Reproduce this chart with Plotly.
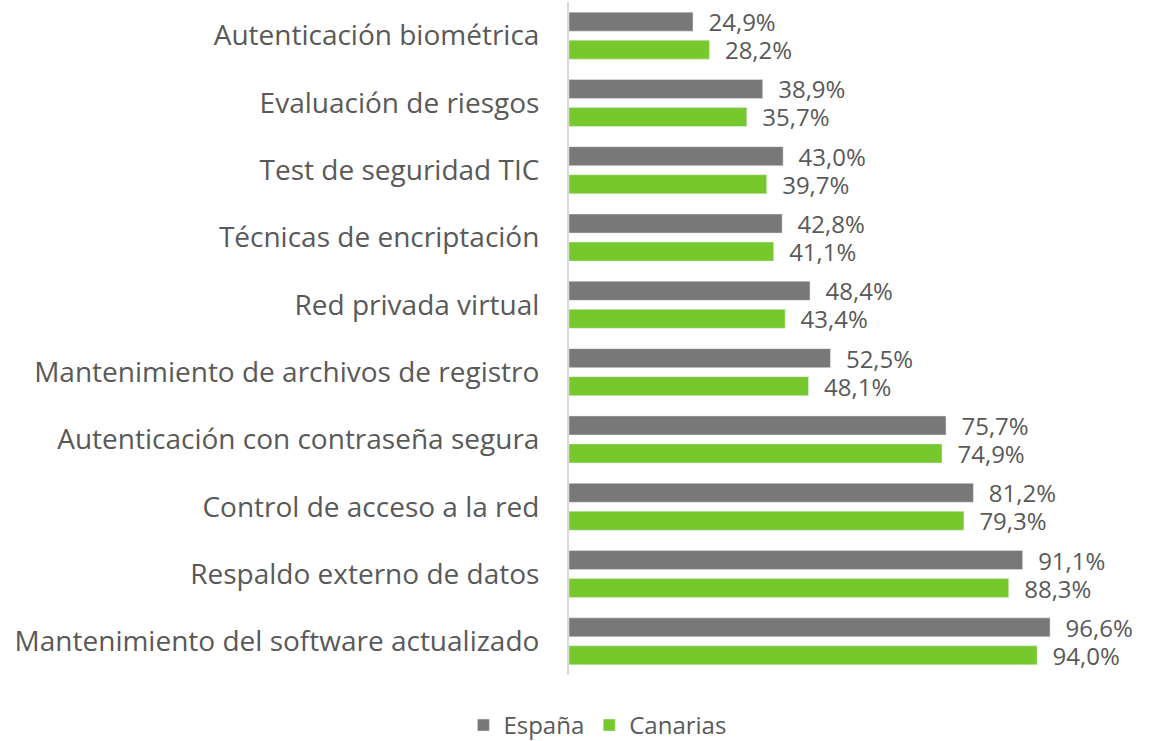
import plotly.graph_objects as go

categories = [
    "Autenticación biométrica",
    "Evaluación de riesgos",
    "Test de seguridad TIC",
    "Técnicas de encriptación",
    "Red privada virtual",
    "Mantenimiento de archivos de registro",
    "Autenticación con contraseña segura",
    "Control de acceso a la red",
    "Respaldo externo de datos",
    "Mantenimiento del software actualizado",
]
espana = [24.9, 38.9, 43.0, 42.8, 48.4, 52.5, 75.7, 81.2, 91.1, 96.6]
canarias = [28.2, 35.7, 39.7, 41.1, 43.4, 48.1, 74.9, 79.3, 88.3, 94.0]

text_color = "#595959"
font_family = "Open Sans"

fig = go.Figure()
fig.add_trace(go.Bar(
    y=categories, x=espana, name="España", orientation="h",
    marker=dict(color="#787878"),
    texttemplate="  %{x:.1f}%", textposition="outside", cliponaxis=False,
    constraintext="none",
    textfont=dict(size=24, color=text_color, family=font_family),
))
fig.add_trace(go.Bar(
    y=categories, x=canarias, name="Canarias", orientation="h",
    marker=dict(color="#77c82c"),
    texttemplate="  %{x:.1f}%", textposition="outside", cliponaxis=False,
    constraintext="none",
    textfont=dict(size=24, color=text_color, family=font_family),
))

fig.update_layout(
    width=1151, height=741,
    margin=dict(l=569, r=84, t=2, b=66, autoexpand=False),
    barmode="group", bargap=0.168, bargroupgap=0.32,
    separators=",.",
    plot_bgcolor="white", paper_bgcolor="white",
    font=dict(family=font_family, color=text_color, size=28),
    showlegend=True,
    legend=dict(
        orientation="h",
        x=0.058, xanchor="center", y=-0.075, yanchor="middle",
        font=dict(size=24, color=text_color),
        itemwidth=30, tracegroupgap=0,
    ),
)
fig.update_xaxes(range=[0, 100], showgrid=False, zeroline=False,
                 showticklabels=False, showline=False, automargin=False)
fig.update_yaxes(autorange="reversed", showgrid=False, zeroline=False,
                 showline=True, linecolor="#d9d9d9", linewidth=2,
                 ticks="", ticklabelstandoff=22, automargin=False,
                 tickfont=dict(size=28, color=text_color))

fig.write_html("out.html", config={"displayModeBar": False},
               post_script="document.body.style.margin='0px';")
